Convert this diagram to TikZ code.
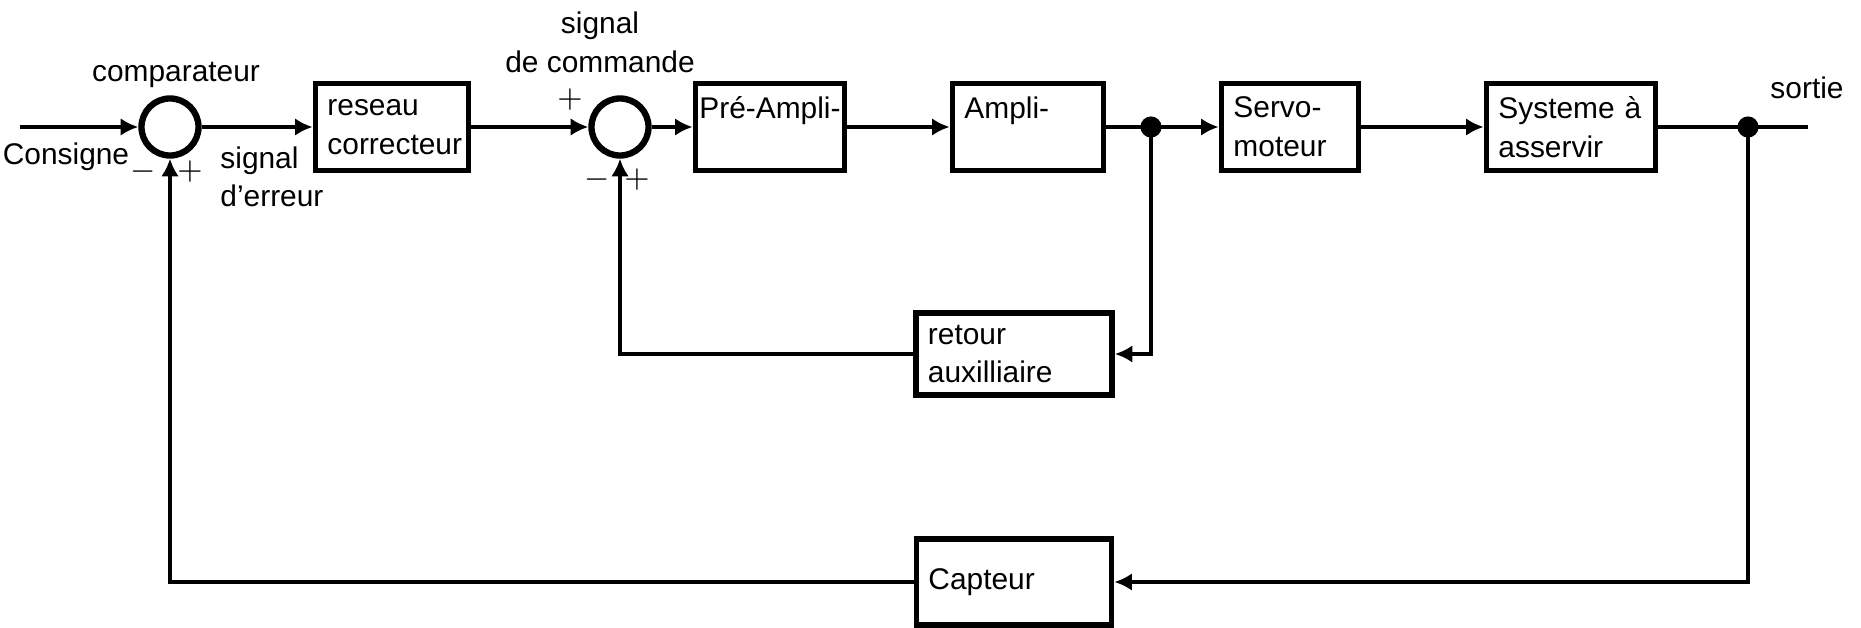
\documentclass[tikz,border=0pt]{standalone}
\usepackage{fontspec}
\setmainfont{Liberation Sans}
\usetikzlibrary{arrows.meta}

\begin{document}
\begin{tikzpicture}[x=0.01cm, y=-0.01cm,
    font=\fontsize{8.5}{11}\selectfont,
    bloc/.style={draw, line width=1.6pt, inner xsep=0.12cm, align=left, minimum height=0.87cm},
    haut/.style={text depth=0.38cm},
    comp/.style={draw, circle, line width=1.8pt, minimum size=0.57cm, inner sep=0pt},
    fleche/.style={line width=1.2pt, -{Latex[length=5pt,width=5pt]}},
    liaison/.style={line width=1.2pt},
    signe/.style={font=\bfseries\small, inner sep=0pt}]
    \useasboundingbox (0,0) rectangle (1861,628);
    % chaine directe
    \coordinate (e) at (20,127);
    \node[comp] (c1) at (170,127) {};
    \node[bloc, text width=1.29cm] (res) at (392,127) {reseau\\correcteur};
    \node[comp] (c2) at (620,127) {};
    \node[bloc, haut, inner xsep=0.04cm, minimum width=1.48cm] (pre) at (770,127) {Pré-Ampli-};
    \node[bloc, haut, text width=1.27cm] (amp) at (1028,127) {Ampli-};
    \coordinate (j1) at (1151,127);
    \node[bloc, text width=1.13cm] (servo) at (1290,127) {Servo-\\moteur};
    \node[bloc, text width=1.45cm] (sys) at (1571,127) {Systeme à\\asservir};
    \coordinate (j2) at (1748,127);
    \coordinate (s) at (1808,127);
    % retours
    \node[bloc, minimum height=0.75cm, text width=1.72cm] (ret) at (1014,354) {retour\\auxilliaire};
    \node[bloc, minimum height=0.86cm, text width=1.71cm] (cap) at (1014,582) {Capteur};

    \draw[fleche] (e) -- (c1.west);
    \draw[fleche] (c1.east) -- (res.west);
    \draw[fleche] (res.east) -- (c2.west);
    \draw[fleche] (c2.east) -- (pre.west);
    \draw[fleche] (pre.east) -- (amp.west);
    \draw[fleche] (amp.east) -- (servo.west);
    \draw[fleche] (servo.east) -- (sys.west);
    \draw[liaison] (sys.east) -- (s);
    \draw[fleche] (j1) |- (ret.east);
    \draw[fleche] (ret.west) -| (c2.south);
    \draw[fleche] (j2) |- (cap.east);
    \draw[fleche] (cap.west) -| (c1.south);
    \fill (j1) circle (3pt);
    \fill (j2) circle (3pt);

    % textes
    \node (cmp) at (176,75) {comparateur};
    \node (csg) at (66,157) {Consigne};
    \node[anchor=north west, align=left] (err) at (208,134) {signal\\d'erreur};
    \node[align=center] (cmd) at (600,42) {signal\\de commande};
    \node (sor) at (1807,88) {sortie};
    \node[signe] (m1) at (143,172) {$-$};
    \node[signe] (p1) at (190,172) {$+$};
    \node[signe] (p2) at (570,100) {$+$};
    \node[signe] (m2) at (597,180) {$-$};
    \node[signe] (p3) at (637,180) {$+$};
\end{tikzpicture}
\end{document}
